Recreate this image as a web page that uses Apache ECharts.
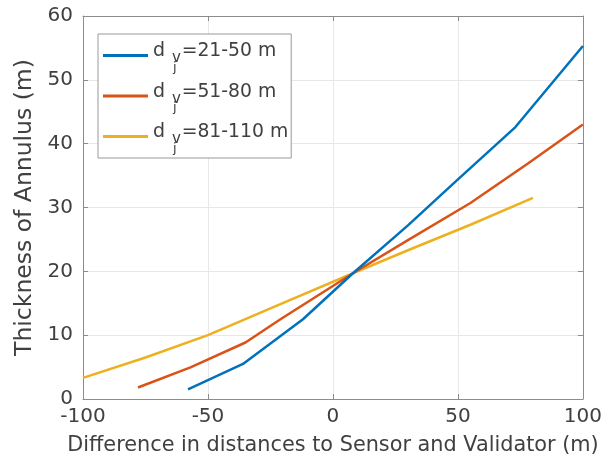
<!DOCTYPE html>
<html>
<head>
<meta charset="utf-8">
<script src="https://cdn.jsdelivr.net/npm/echarts@6/dist/echarts.min.js"></script>
<style>
  html, body { margin: 0; padding: 0; background: #fff; }
  #chart { width: 605px; height: 461px; }
</style>
</head>
<body>
<div id="chart"></div>
<script>
// series names (legend labels)
const seriesNames = ['21-50 m', '51-80 m', '81-110 m'];
const seriesColors = ['#0072BD', '#D95319', '#EDB120'];

// values
const blueX = [-58, -36, -12, 8, 30, 50, 73, 100];
const blueY = [1.5, 5.5, 12.5, 19.7, 27.2, 34.4, 42.6, 55.3];

const redX = [-78, -57, -35, -21, 8, 30, 55, 78, 100];
const redY = [1.8, 4.95, 8.85, 12.5, 19.7, 24.9, 30.7, 36.9, 43.0];

const yellowX = [-100, -75, -50, -25, 8, 30, 55, 80];
const yellowY = [3.3, 6.5, 10.0, 14.2, 19.7, 23.3, 27.3, 31.5];

const xTicks = [-100, -50, 0, 50, 100];
const yTicks = [0, 10, 20, 30, 40, 50, 60];

function pairs(xs, ys) {
  return xs.map((x, i) => [x, ys[i]]);
}

const font = 'DejaVu Sans';
const textColor = '#404040';
const axisColor = '#8c8c8c';

const allX = [blueX, redX, yellowX];
const allY = [blueY, redY, yellowY];

const series = seriesNames.map((name, i) => ({
  name: name,
  type: 'line',
  data: pairs(allX[i], allY[i]),
  symbol: 'none',
  lineStyle: { color: seriesColors[i], width: 2.5 },
  itemStyle: { color: seriesColors[i] },
  emphasis: { disabled: true },
  z: 3 - i
}));

// d with subscript v, sub-subscript j
const rowH = 37;
const option = {
  animation: false,
  backgroundColor: '#fff',
  grid: { left: 83, right: 22, top: 16, bottom: 61 },
  legend: {
    orient: 'vertical',
    left: 98,
    top: 34,
    padding: [3, 3, 3, 5],
    itemGap: 3.5,
    itemWidth: 45,
    itemHeight: 3,
    icon: 'rect',
    backgroundColor: '#fff',
    borderColor: '#999',
    borderWidth: 1,
    borderRadius: 0,
    data: seriesNames,
    formatter: function (name) {
      return '{d|d}{v|v}{j|j}{t|=' + name + '}';
    },
    textStyle: {
      fontFamily: font,
      color: textColor,
      lineHeight: rowH,
      rich: {
        d: { fontFamily: font, fontSize: 19, color: textColor, lineHeight: rowH, verticalAlign: 'top', padding: [5, 0, 0, 0] },
        v: { fontFamily: font, fontSize: 15, color: textColor, lineHeight: rowH, verticalAlign: 'middle', padding: [6, 0, 0, 7], width: 1 },
        j: { fontFamily: font, fontSize: 13, color: textColor, lineHeight: rowH, verticalAlign: 'top', padding: [24, 5, 0, 0] },
        t: { fontFamily: font, fontSize: 18.8, color: textColor, lineHeight: rowH, verticalAlign: 'top', padding: [5, 0, 0, 0] }
      }
    }
  },
  xAxis: [{
    type: 'value',
    min: xTicks[0],
    max: xTicks[xTicks.length - 1],
    interval: 50,
    name: 'Difference in distances to Sensor and Validator (m)',
    nameLocation: 'middle',
    nameGap: 36,
    nameTextStyle: { fontFamily: font, fontSize: 20.8, color: textColor },
    axisLine: { show: true, onZero: false, lineStyle: { color: axisColor, width: 1 } },
    axisTick: { show: true, inside: true, length: 5, lineStyle: { color: axisColor } },
    axisLabel: { fontFamily: font, fontSize: 20, color: textColor, margin: 8 },
    splitLine: { show: true, lineStyle: { color: '#e8e8e8', width: 1 } }
  }, {
    type: 'value',
    position: 'top',
    min: xTicks[0],
    max: xTicks[xTicks.length - 1],
    interval: 50,
    axisLine: { show: true, onZero: false, lineStyle: { color: axisColor, width: 1 } },
    axisTick: { show: true, inside: true, length: 5, lineStyle: { color: axisColor } },
    axisLabel: { show: false },
    splitLine: { show: false }
  }],
  yAxis: [{
    type: 'value',
    min: yTicks[0],
    max: yTicks[yTicks.length - 1],
    interval: 10,
    name: 'Thickness of Annulus (m)',
    nameLocation: 'middle',
    nameGap: 41,
    nameTextStyle: { fontFamily: font, fontSize: 23.5, color: textColor },
    axisLine: { show: true, onZero: false, lineStyle: { color: axisColor, width: 1 } },
    axisTick: { show: true, inside: true, length: 5, lineStyle: { color: axisColor } },
    axisLabel: { fontFamily: font, fontSize: 20, color: textColor, margin: 10 },
    splitLine: { show: true, lineStyle: { color: '#e8e8e8', width: 1 } }
  }, {
    type: 'value',
    position: 'right',
    min: yTicks[0],
    max: yTicks[yTicks.length - 1],
    interval: 10,
    axisLine: { show: true, onZero: false, lineStyle: { color: axisColor, width: 1 } },
    axisTick: { show: true, inside: true, length: 5, lineStyle: { color: axisColor } },
    axisLabel: { show: false },
    splitLine: { show: false }
  }],
  series: series
};

const chart = echarts.init(document.getElementById('chart'), null, { renderer: 'canvas' });
chart.setOption(option);
</script>
</body>
</html>
